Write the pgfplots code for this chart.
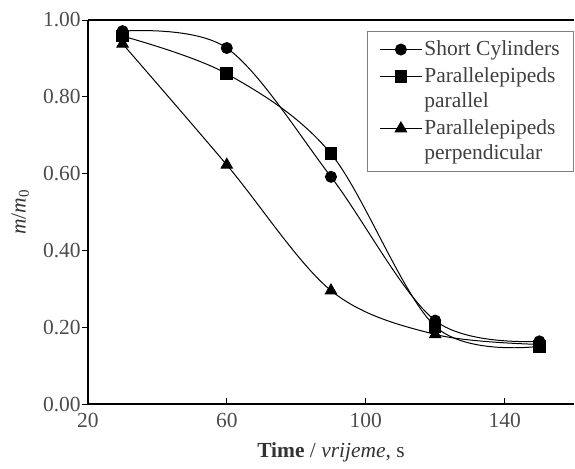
\documentclass[border=0pt]{standalone}
\usepackage{pgfplots}
\pgfplotsset{compat=1.18}
\usepackage{fontspec}
\setmainfont{Liberation Serif}

\pgfplotstableread{
t    m
30   0.971
60   0.927
90   0.592
120  0.218
150  0.164
}\cyltab
\pgfplotstableread{
t    m
30   0.958
60   0.860
90   0.652
120  0.203
150  0.151
}\partab
\pgfplotstableread{
t    m
30   0.938
60   0.623
90   0.296
120  0.182
150  0.156
}\perptab

\begin{document}
\fontsize{21}{24}\selectfont
\begin{tikzpicture}
\begin{axis}[
    scale only axis,
    width=487pt, height=385pt,
    xmin=20, xmax=160, ymin=0, ymax=1,
    xtick={20,60,100,140},
    ytick={0,0.2,0.4,0.6,0.8,1.0},
    axis lines=left,
    axis line style={-, line width=1.8pt},
    tick style={black, line width=0.8pt},
    major tick length=6pt,
    tick align=inside,
    ytick style={xshift=-6pt},
    /pgf/number format/assume math mode=true,
    yticklabel style={/pgf/number format/.cd, fixed, fixed zerofill, precision=2},
    ticklabel style={text=black!70, font=\fontsize{21.5}{24}\selectfont},
    xticklabel style={yshift=-2pt},
    xlabel={\textbf{Time} / \textit{vrijeme}, s},
    ylabel={\textit{m}/\textit{m}\textsubscript{0}},
    label style={text=black!80, font=\fontsize{21.5}{24}\selectfont},
    every axis plot/.append style={black, line width=1pt, smooth, tension=0.55},
    legend style={at={(rel axis cs:1,0.971)}, anchor=north east,
        draw=black!50, line width=0.8pt, fill=white,
        font=\fontsize{21.5}{25}\selectfont, text=black!75,
        cells={align=left}, inner xsep=12pt, inner ysep=7pt,
        row sep=5pt},
    legend cell align=left,
    legend image code/.code={\draw[mark repeat=2, mark phase=2]
        plot coordinates {(0pt,0pt) (21pt,0pt) (42pt,0pt)};},
]
\addplot[mark=*, mark size=5.5pt] table[x=t, y=m] {\cyltab};
\addlegendentry{Short Cylinders}
\addplot[mark=square*, mark size=5.8pt, legend image post style={yshift=12.5pt}] table[x=t, y=m] {\partab};
\addlegendentry{Parallelepipeds\\parallel}
\addplot[mark=triangle*, mark size=6.5pt, legend image post style={yshift=12.5pt}] table[x=t, y=m] {\perptab};
\addlegendentry{Parallelepipeds\\perpendicular}
\draw[line width=1.2pt] (rel axis cs:0,1) -- (rel axis cs:1,1);
\end{axis}
\path (current axis.south west) ++(-88pt,-54pt) (current axis.north east) ++(0pt,20pt);
\end{tikzpicture}
\end{document}
